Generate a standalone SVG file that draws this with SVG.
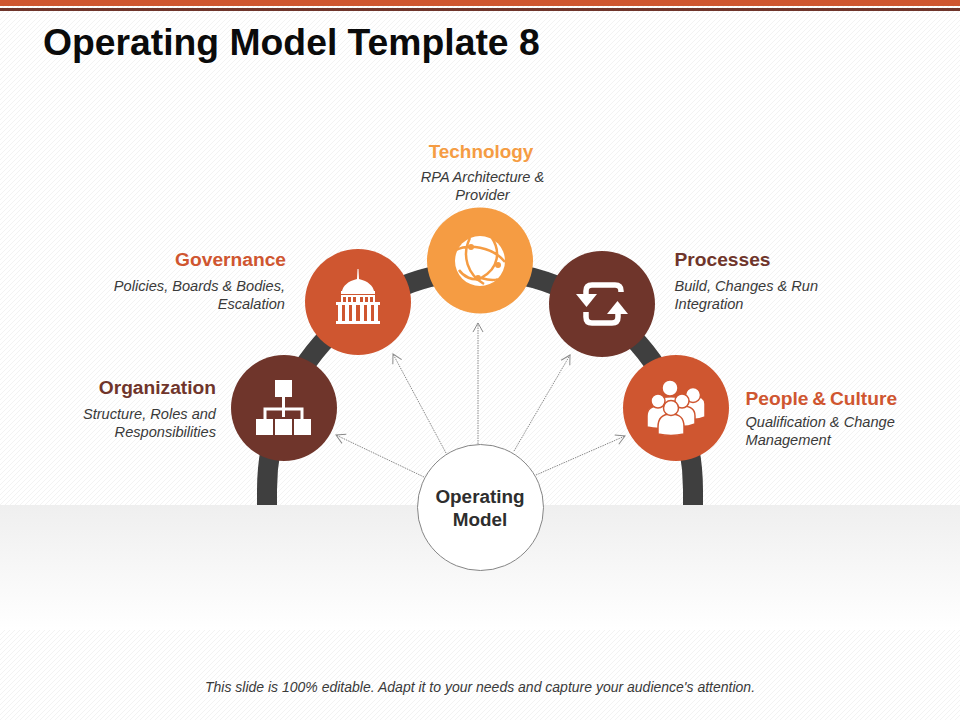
<svg xmlns="http://www.w3.org/2000/svg" width="960" height="720" viewBox="0 0 960 720">
<style>
text{font-family:"Liberation Sans",Arial,sans-serif}
.h{font-size:19.200px;font-weight:bold}
.d{font-size:14.600px;font-style:italic;fill:#3a3a3a}
.e{text-anchor:end}
.i{fill:#fff}
.il{stroke:#fff;fill:none}
.c{fill:none;stroke:#8a8a8a;stroke-width:1;stroke-dasharray:1.5 1;marker-end:url(#a)}
</style>
<defs>
<pattern id="p" width="5" height="5" patternUnits="userSpaceOnUse"><rect width="5" height="5" fill="#fff"/><path d="M-1 1L1 -1M0 5L5 0M4 6L6 4" stroke="#f3f3f3" stroke-width="1"/></pattern>
<linearGradient id="g" x1="0" y1="0" x2="0" y2="1"><stop offset="0" stop-color="#efefef"/><stop offset="1" stop-color="#fff"/></linearGradient>
<marker id="a" markerUnits="userSpaceOnUse" markerWidth="14" markerHeight="14" refX="10" refY="6" orient="auto"><path d="M1 1L10 6L1 11" fill="none" stroke="#8a8a8a" stroke-width="1"/></marker>
</defs>
<rect width="960" height="720" fill="url(#p)"/>
<rect y="505" width="960" height="125" fill="url(#g)"/>
<rect width="960" height="6" fill="#cf5630"/>
<rect y="8" width="960" height="3" fill="#6f352b"/>
<text x="43" y="55" font-size="37.300" font-weight="bold" fill="#0b0b0b">Operating Model Template 8</text>

<path id="arc" d="M267 505V490A213 219 0 0 1 693 490V505" fill="none" stroke="#3f3f3f" stroke-width="20"/>

<g id="connectors">
<path class="c" d="M424 477L336 435"/>
<path class="c" d="M446 453L393 354"/>
<path class="c" d="M478 444V323"/>
<path class="c" d="M514 451L570 355"/>
<path class="c" d="M536 475L625 436"/>
</g>

<g id="center">
<circle cx="480.500" cy="507.500" r="63" fill="#fff" stroke="#858585" stroke-width="1"/>
<text x="480" y="503" text-anchor="middle" font-size="18.900" font-weight="bold" fill="#2e2e2e">Operating</text>
<text x="480" y="525.500" text-anchor="middle" font-size="18.900" font-weight="bold" fill="#2e2e2e">Model</text>
</g>

<g id="organization">
<circle cx="284" cy="408" r="53" fill="#6f352b"/>
<rect class="i" x="275" y="380" width="17" height="17"/>
<path class="il" stroke-width="3" d="M283.500 397V417M265 420V409H302V420"/>
<rect class="i" x="256" y="419" width="17" height="16"/>
<rect class="i" x="275" y="419" width="17" height="16"/>
<rect class="i" x="294" y="419" width="17" height="16"/>
<text class="h e" x="216" y="393.500" fill="#6f352b">Organization</text>
<text class="d e" x="216" y="419">Structure, Roles and</text>
<text class="d e" x="216" y="437">Responsibilities</text>
</g>

<g id="governance">
<circle cx="358" cy="302" r="53" fill="#cf5630"/>
<path class="i" d="M357.500 269L358.500 269L359 279C368 281 373 286 374 291H342C343 286 348 281 357 279Z"/>
<rect class="i" x="341" y="291" width="34" height="3"/>
<path class="i" d="M341 295H375V302H373V297H370V302H368V297H365V302H363V297H360V302H356V297H353V302H351V297H348V302H346V297H343V302H341Z"/>
<rect class="i" x="336" y="302" width="44" height="3"/>
<path class="i" d="M338 305H342V321H338ZM345 305H349V321H345ZM352 305H356V321H352ZM360 305H364V321H360ZM367 305H371V321H367ZM374 305H378V321H374Z"/>
<rect class="i" x="336" y="321" width="44" height="3"/>
<text class="h e" x="286" y="265.500" fill="#cf5630">Governance</text>
<text class="d e" x="285" y="290.500">Policies, Boards &amp; Bodies,</text>
<text class="d e" x="285" y="308.500">Escalation</text>
</g>

<g id="technology">
<circle cx="480" cy="260.500" r="53" fill="#f59c43"/>
<circle class="i" cx="480" cy="261" r="25"/>
<path d="M456 250C468 244 492 246 505 262M470 238C461 256 468 275 484 284M492 238C500 250 500 268 481 278C473 282 463 276 459 270M481 278C488 280 494 281 498 279" fill="none" stroke="#f59c43" stroke-width="2.500"/>
<circle cx="498" cy="265" r="3" fill="#f59c43"/>
<circle cx="478" cy="278" r="3" fill="#f59c43"/>
<circle cx="471" cy="247" r="3" fill="#f59c43"/>
<text class="h" x="481" y="158" text-anchor="middle" fill="#f59c43" style="font-size:18.900px">Technology</text>
<text class="d" x="482.500" y="181.500" text-anchor="middle">RPA Architecture &amp;</text>
<text class="d" x="482.500" y="199.500" text-anchor="middle">Provider</text>
</g>

<g id="processes">
<circle cx="602" cy="304" r="53" fill="#6f352b"/>
<path class="il" stroke-width="5.500" stroke-linejoin="round" d="M586 296V291Q586 285 592 285H615Q621 285 621 291V292"/>
<path class="il" stroke-width="5.500" d="M586 312V317Q586 323 592 323H612Q618 323 618 317V312"/>
<path class="i" d="M576 294H597L586.500 307Z"/>
<path class="i" d="M607 314H628L617.500 301Z"/>
<text class="h" x="674.500" y="265.500" fill="#6f352b">Processes</text>
<text class="d" x="674.500" y="290.500">Build, Changes &amp; Run</text>
<text class="d" x="674.500" y="308.500">Integration</text>
</g>

<g id="people">
<circle cx="676" cy="408" r="53" fill="#cf5630"/>
<g stroke="#cf5630" stroke-width="1.500">
<path class="i" d="M680 404C680 398 684 396 693 396C702 396 705 399 705 404V417C699 420 693 420 686 419Z"/>
<circle class="i" cx="693" cy="395" r="7.500"/>
<path class="i" d="M660 399C660 396 682 396 682 399V415H660Z"/>
<circle class="i" cx="670" cy="388" r="8"/>
<path class="i" d="M647 416C647 408 652 406 659 406C666 406 671 408 671 416V427C663 429 655 429 647 427Z"/>
<circle class="i" cx="658" cy="401" r="7"/>
<path class="i" d="M670 416C670 408 675 406 682 406C692 406 695 410 695 416V424C688 427 680 427 672 426Z"/>
<circle class="i" cx="682" cy="401" r="7"/>
<path class="i" d="M658 427C658 417 664 414 671 414C679 414 684 417 684 427V434C675 436 667 436 658 434Z"/>
<circle class="i" cx="671" cy="408" r="7.500"/>
</g>
<text class="h" x="745.500" y="404.500" fill="#cf5630" word-spacing="-1.500">People &amp; Culture</text>
<text class="d" x="745.500" y="427">Qualification &amp; Change</text>
<text class="d" x="745.500" y="445">Management</text>
</g>

<text x="480" y="692" text-anchor="middle" font-size="14" font-style="italic" fill="#3a3a3a">This slide is 100% editable. Adapt it to your needs and capture your audience's attention.</text>
</svg>
